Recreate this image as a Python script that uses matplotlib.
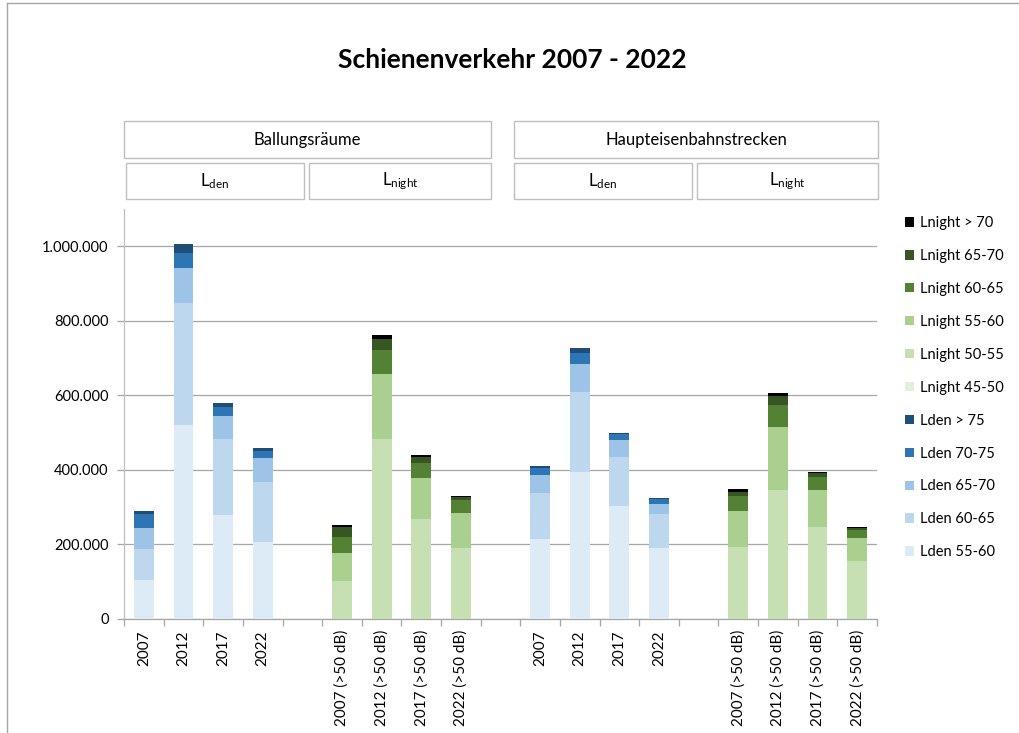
import matplotlib
matplotlib.use("Agg")
import matplotlib.pyplot as plt
from matplotlib.patches import Rectangle
from matplotlib.lines import Line2D
from matplotlib.ticker import FuncFormatter, FixedLocator
import numpy as np

plt.rcParams['font.family'] = ['Lato', 'DejaVu Sans']
plt.rcParams['mathtext.fontset'] = 'custom'
plt.rcParams['mathtext.rm'] = 'Lato'

categories = ["2007", "2012", "2017", "2022", "",
              "2007 (>50 dB)", "2012 (>50 dB)", "2017 (>50 dB)", "2022 (>50 dB)", "",
              "2007", "2012", "2017", "2022", "",
              "2007 (>50 dB)", "2012 (>50 dB)", "2017 (>50 dB)", "2022 (>50 dB)"]

# Lden series (Ballungsräume | Haupteisenbahnstrecken)
lden_55_60 = [105000, 520000, 279000, 207000, 0, 0, 0, 0, 0, 0,
              214000, 394000, 302000, 191000, 0, 0, 0, 0, 0]
lden_60_65 = [82000, 328000, 205000, 161000, 0, 0, 0, 0, 0, 0,
              123000, 214000, 132000, 90000, 0, 0, 0, 0, 0]
lden_65_70 = [58000, 95000, 61000, 63000, 0, 0, 0, 0, 0, 0,
              49000, 77000, 45000, 28000, 0, 0, 0, 0, 0]
lden_70_75 = [37000, 39000, 24000, 21000, 0, 0, 0, 0, 0, 0,
              18000, 29000, 18000, 12000, 0, 0, 0, 0, 0]
lden_gt_75 = [8000, 23000, 10000, 8000, 0, 0, 0, 0, 0, 0,
              6000, 13000, 3000, 3000, 0, 0, 0, 0, 0]
# Lnight series
lnight_45_50 = [0] * 19
lnight_50_55 = [0, 0, 0, 0, 0, 102000, 483000, 268000, 190000, 0,
                0, 0, 0, 0, 0, 193000, 346000, 247000, 155000]
lnight_55_60 = [0, 0, 0, 0, 0, 75000, 173000, 110000, 94000, 0,
                0, 0, 0, 0, 0, 97000, 169000, 99000, 62000]
lnight_60_65 = [0, 0, 0, 0, 0, 43000, 65000, 40000, 35000, 0,
                0, 0, 0, 0, 0, 40000, 59000, 35000, 22000]
lnight_65_70 = [0, 0, 0, 0, 0, 28000, 30000, 16000, 8000, 0,
                0, 0, 0, 0, 0, 12000, 24000, 10000, 5000]
lnight_gt_70 = [0, 0, 0, 0, 0, 5000, 12000, 5000, 4000, 0,
                0, 0, 0, 0, 0, 6000, 9000, 3000, 3000]

series = [
    ("Lden 55-60", lden_55_60, "#DDEBF7"),
    ("Lden 60-65", lden_60_65, "#BDD7EE"),
    ("Lden 65-70", lden_65_70, "#9DC3E6"),
    ("Lden 70-75", lden_70_75, "#2E75B6"),
    ("Lden > 75", lden_gt_75, "#1F4E79"),
    ("Lnight 45-50", lnight_45_50, "#E2EFDA"),
    ("Lnight 50-55", lnight_50_55, "#C6E0B4"),
    ("Lnight 55-60", lnight_55_60, "#A9D08E"),
    ("Lnight 60-65", lnight_60_65, "#548235"),
    ("Lnight 65-70", lnight_65_70, "#375623"),
    ("Lnight > 70", lnight_gt_70, "#000000"),
]

W, H = 1020, 733
fig = plt.figure(figsize=(W / 100, H / 100), dpi=100)

def fx(px):
    return px / W

def fy(py):
    return 1 - py / H

ax_l, ax_r, ax_t, ax_b = 124, 877, 209, 619
ax = fig.add_axes([fx(ax_l), fy(ax_b), fx(ax_r - ax_l), (ax_b - ax_t) / H])

x = np.arange(len(categories))
bottom = np.zeros(len(categories))
handles = []
for label, vals, color in series:
    vals = np.array(vals, dtype=float)
    b = ax.bar(x, vals, width=0.5, bottom=bottom, color=color, edgecolor='none',
               label=label, zorder=3)
    bottom += vals
    handles.append(b)

ax.set_xlim(-0.5, len(categories) - 0.5)
ax.set_ylim(0, 1100000)
ax.yaxis.set_major_locator(FixedLocator([0, 200000, 400000, 600000, 800000, 1000000]))
ax.yaxis.set_major_formatter(FuncFormatter(lambda v, p: f"{int(v):,}".replace(",", ".")))
ax.grid(axis='y', color='#A6A6A6', linewidth=0.9, zorder=0)
ax.set_axisbelow(True)

ax.set_xticks(x)
ax.set_xticklabels(categories, rotation=90, fontsize=11, color='#000000')
ax.set_xticks(np.arange(-0.5, len(categories), 1.0), minor=True)
ax.tick_params(axis='x', which='major', length=0, pad=8)
ax.tick_params(axis='x', which='minor', length=5, color='#A6A6A6', width=0.9)
ax.tick_params(axis='y', length=5, color='#A6A6A6', width=0.9, labelsize=10.5, pad=6)

for s in ['top', 'right']:
    ax.spines[s].set_visible(False)
for s in ['left', 'bottom']:
    ax.spines[s].set_color('#BFBFBF')
    ax.spines[s].set_linewidth(0.9)
ax.spines['bottom'].set_color('#A6A6A6')

# Title
fig.text(fx(512), fy(60), "Schienenverkehr 2007 - 2022", ha='center', va='center',
         fontsize=19, fontweight='bold')

# Header boxes
def box(x0, y0, x1, y1, text):
    fig.patches.append(Rectangle((fx(x0), fy(y1)), fx(x1 - x0), (y1 - y0) / H,
                                 transform=fig.transFigure, facecolor='white',
                                 edgecolor='#BFBFBF', linewidth=1.0))
    fig.text(fx((x0 + x1) / 2), fy((y0 + y1) / 2), text, ha='center', va='center',
             fontsize=12)

box(124, 121, 491, 158, "Ballungsräume")
box(514, 121, 878, 158, "Haupteisenbahnstrecken")
box(126, 163, 304, 199, r"$\mathrm{L_{den}}$")
box(309, 163, 491, 199, r"$\mathrm{L_{night}}$")
box(514, 163, 692, 199, r"$\mathrm{L_{den}}$")
box(697, 163, 878, 199, r"$\mathrm{L_{night}}$")

# Legend (reverse order)
leg = fig.legend(handles=handles[::-1], labels=[s[0] for s in series][::-1],
                 loc='upper left', bbox_to_anchor=(fx(899), fy(210)),
                 frameon=False, fontsize=10.5, handlelength=0.65, handleheight=0.65,
                 handletextpad=0.4, labelspacing=1.3, borderaxespad=0)

# Outer border (top and left visible)
fig.add_artist(Line2D([fx(7), fx(7)], [fy(3), 0], transform=fig.transFigure,
                      color='#A6A6A6', linewidth=1.0))
fig.add_artist(Line2D([fx(7), 1], [fy(3), fy(3)], transform=fig.transFigure,
                      color='#A6A6A6', linewidth=1.0))

fig.savefig("out.png", dpi=100)
